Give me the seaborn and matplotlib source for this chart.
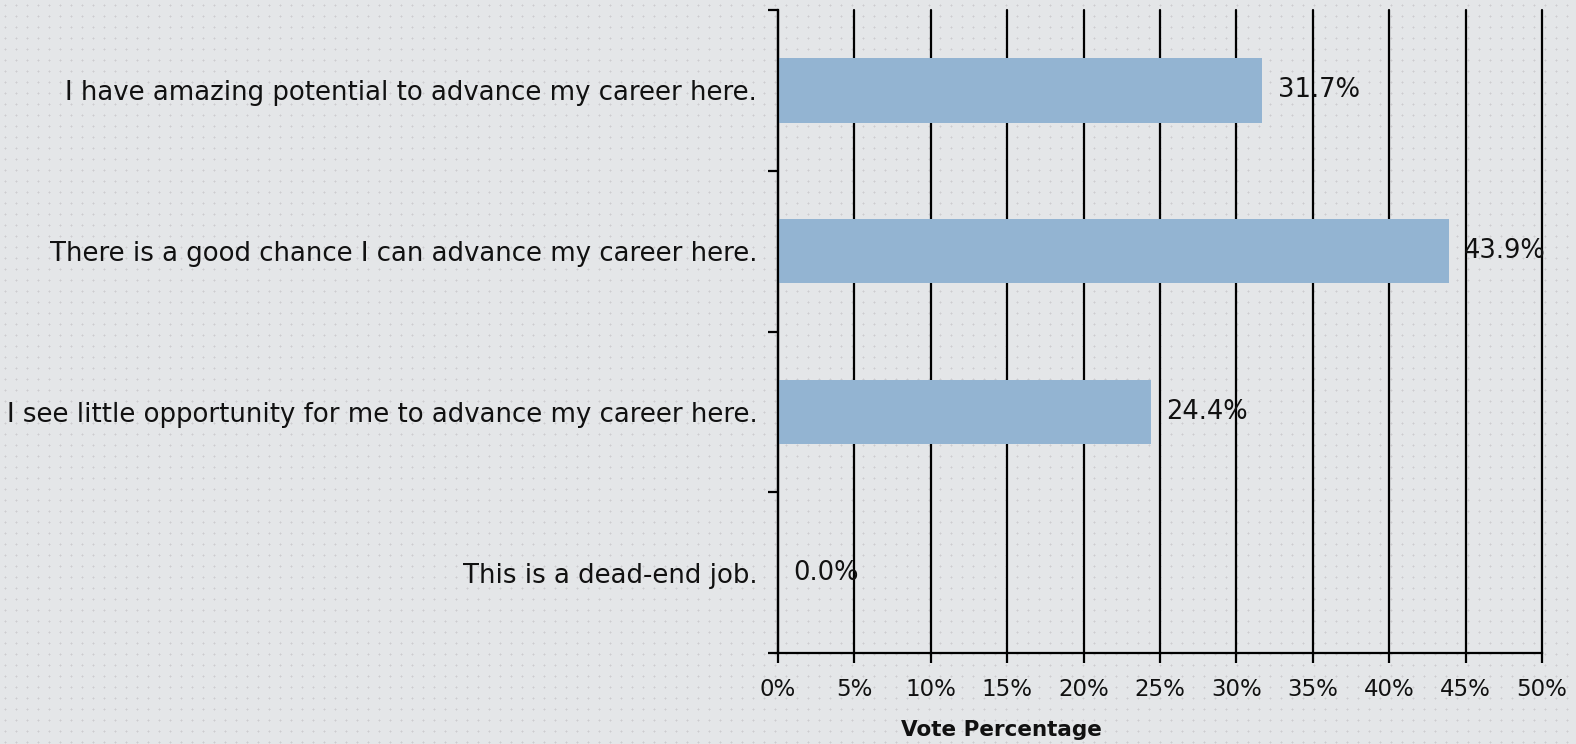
import numpy as np
import pandas as pd
import matplotlib
matplotlib.use("Agg")
import matplotlib.pyplot as plt
import seaborn as sns

# Survey answers and their share of votes
statements = [
    "I have amazing potential to advance my career here.",
    "There is a good chance I can advance my career here.",
    "I see little opportunity for me to advance my career here.",
    "This is a dead-end job.",
]
vote_pct = [31.7, 43.9, 24.4, 0.0]
x_ticks = [0, 5, 10, 15, 20, 25, 30, 35, 40, 45, 50]

bar_color = "#93b4d2"
bg_color = (0.898, 0.902, 0.910)
txt = "#111111"

sns.set_style("white")
plt.rcParams["font.family"] = ["DejaVu Sans"]
plt.rcParams["text.color"] = txt
plt.rcParams["xtick.color"] = txt
plt.rcParams["ytick.color"] = txt
plt.rcParams["axes.labelcolor"] = txt

df = pd.DataFrame({"statement": statements, "pct": vote_pct})

W, H = 1576, 744
fig = plt.figure(figsize=(W / 100, H / 100), dpi=100)
fig.patch.set_facecolor(bg_color)

# dotted paper texture in the background
tex = np.ones((H, W, 3)) * np.array(bg_color)
dot = (0.80, 0.80, 0.81)
tex[5::11, 5::11] = dot
tex[4::11, 5::11] = (0.85, 0.85, 0.86)
tex[6::11, 5::11] = (0.85, 0.85, 0.86)
tex[5::11, 4::11] = (0.85, 0.85, 0.86)
tex[5::11, 6::11] = (0.85, 0.85, 0.86)
fig.figimage(tex, 0, 0, zorder=-10)

ax = fig.add_axes([778 / W, 1 - 653 / H, (1542 - 778) / W, (653 - 10) / H])
ax.set_facecolor("none")

sns.barplot(data=df, x="pct", y="statement", orient="h", color=bar_color,
            width=0.4, saturation=1, linewidth=0, ax=ax, zorder=3)

ax.set_xlim(0, 50)
ax.set_ylim(len(statements) - 0.5, -0.5)

# vertical gridlines
ax.set_xticks(x_ticks)
ax.set_xticklabels([f"{t}%" for t in x_ticks], fontsize=16.5)
ax.grid(axis="x", color="black", linewidth=1.6, zorder=0)
ax.grid(axis="y", visible=False)
ax.set_axisbelow(True)
for gl in ax.get_xgridlines():
    gl.set_clip_on(False)

# ticks between categories, labels centred on bars
ax.set_yticks(np.arange(len(statements) + 1) - 0.5)
ax.set_yticklabels([])
ax.set_yticks(np.arange(len(statements)), minor=True)
ax.set_yticklabels(statements, minor=True, fontsize=18.7)
ax.tick_params(axis="y", which="major", length=7, width=1.6, color="black", left=True)
ax.tick_params(axis="y", which="minor", length=0, pad=15)
ax.tick_params(axis="x", length=7, width=1.6, color="black", bottom=True, pad=11)

for s in ["top", "right"]:
    ax.spines[s].set_visible(False)
for s in ["left", "bottom"]:
    ax.spines[s].set_color("black")
    ax.spines[s].set_linewidth(1.6)
    ax.spines[s].set_zorder(4)

for i, v in enumerate(vote_pct):
    ax.annotate(f"{v:.1f}%", xy=(v, i), xytext=(11, 0), textcoords="offset points",
                va="center", ha="left", fontsize=18.5, zorder=5)

ax.set_ylabel("")
ax.set_xlabel("Vote Percentage", fontsize=15.5, fontweight="bold")
ax.xaxis.set_label_coords(0.293, -0.104)

fig.savefig("out.png", dpi=100, facecolor=fig.get_facecolor())
